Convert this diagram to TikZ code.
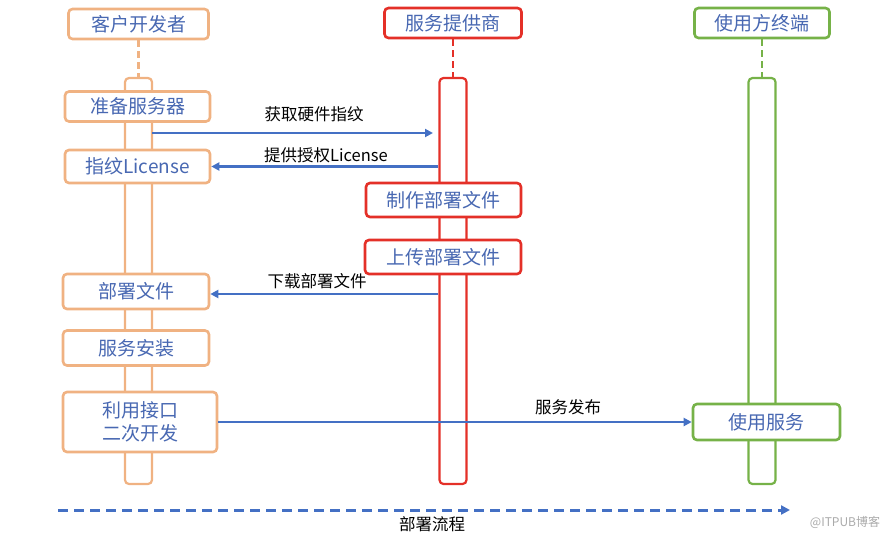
\documentclass[tikz,border=0pt]{standalone}
\usepackage{fontspec}
\setmainfont{Noto Sans CJK SC}
\usetikzlibrary{arrows.meta}
\definecolor{clientC}{RGB}{240,178,130}
\definecolor{providerC}{RGB}{228,48,40}
\definecolor{userC}{RGB}{118,178,72}
\definecolor{msgC}{RGB}{68,112,196}
\definecolor{labelC}{RGB}{72,104,178}
\definecolor{markC}{RGB}{170,170,170}

\begin{document}
\begin{tikzpicture}[x=1pt,y=1pt,yscale=-1,
	box/.style={draw,rounded corners=4pt,line width=2.6pt,fill=white,text=labelC,inner sep=0pt,align=center,font=\fontsize{19}{23}\selectfont},
	life/.style={draw,rounded corners=4pt,line width=2.2pt,fill=white,inner sep=0pt,minimum width=27pt,minimum height=406pt},
	link/.style={line width=2.6pt,dash pattern=on 7pt off 4pt},
	msg/.style={msgC,line width=2.3pt,-{Triangle[length=8pt,width=8pt]}},
	note/.style={inner sep=0.75pt,font=\fontsize{16.5}{20}\selectfont}]
	%set diagram size to 890 x 536
	\useasboundingbox (0,0) rectangle (890,536);
	
	%Shape: Lifelines
	\node [life,draw=clientC] (lifeC) at (138.5,281) {};
	\node [life,draw=providerC] (lifeS) at (453,281) {};
	\node [life,draw=userC] (lifeU) at (762,281) {};
	
	%Shape: Heads
	\node [box,draw=clientC,minimum width=140pt,minimum height=30pt] (hdC) at (138.5,24) {客户开发者};
	\node [box,draw=providerC,minimum width=137pt,minimum height=30pt] (hdS) at (453,23) {服务提供商};
	\node [box,draw=userC,minimum width=135pt,minimum height=30pt] (hdU) at (762,23) {使用方终端};
	%Dashed Lines
	\draw [link,clientC] (hdC) -- (lifeC);
	\draw [link,providerC] (hdS) -- (lifeS);
	\draw [link,userC] (hdU) -- (lifeU);
	
	%Shape: Steps of client
	\node [box,draw=clientC,minimum width=145pt,minimum height=30pt] (prep) at (137.5,106.5) {准备服务器};
	\node [box,draw=clientC,minimum width=145pt,minimum height=33pt] (lic) at (137.5,166.5) {指纹License};
	\node [box,draw=clientC,minimum width=146pt,minimum height=35pt] (files) at (136,291.5) {部署文件};
	\node [box,draw=clientC,minimum width=146pt,minimum height=35pt] (install) at (136,348) {服务安装};
	\node [box,draw=clientC,minimum width=154pt,minimum height=60pt] (api) at (140,422) {利用接口\\二次开发};
	%Shape: Steps of provider
	\node [box,draw=providerC,minimum width=155pt,minimum height=34pt] (make) at (443.5,200) {制作部署文件};
	\node [box,draw=providerC,minimum width=156pt,minimum height=34pt] (upload) at (443,257) {上传部署文件};
	%Shape: Step of user
	\node [box,draw=userC,minimum width=147pt,minimum height=36pt] (use) at (766.5,422) {使用服务};
	
	%Straight Lines
	\coordinate (askS) at (152,133);
	\coordinate (askE) at (433,133);
	\draw [msg] (askS) -- (askE);
	\draw [msg] (lifeS.west |- lic) -- (lic);
	\draw [msg] ([yshift=2.5pt]lifeS.west |- files) -- ([yshift=2.5pt]files.east);
	\draw [msg] (api) -- (use);
	
	% Text Node
	\node [note] (askL) at (314,114) {获取硬件指纹};
	% Text Node
	\node [note] (licL) at (326,155) {提供授权License};
	% Text Node
	\node [note] (filesL) at (317,281) {下载部署文件};
	% Text Node
	\node [note] (pubL) at (568,407) {服务发布};
	
	%Dashed Arrow
	\coordinate (flowS) at (58,510);
	\coordinate (flowE) at (790,510);
	\draw [msgC,line width=3pt,dash pattern=on 10pt off 6pt,-{Triangle[length=9pt,width=9pt]}] (flowS) -- (flowE);
	% Text Node
	\node [note] (flowL) at (432,524) {部署流程};
	% Text Node
	\node [inner sep=0.75pt,text=markC,font=\fontsize{12}{14}\selectfont] (mark) at (845,522) {@ITPUB博客};
\end{tikzpicture}
\end{document}
